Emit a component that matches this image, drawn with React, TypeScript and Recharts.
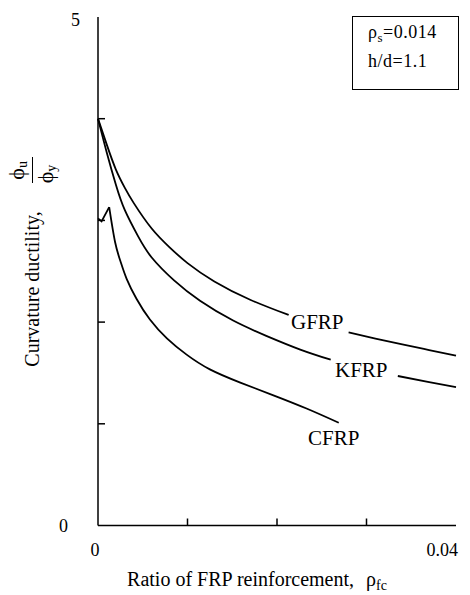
import React from "react";
import { LineChart, Line, XAxis, YAxis } from "recharts";

// null = gap left for the curve label
const gfrpX = [0, 0.001, 0.002, 0.003, 0.004, 0.006, 0.008, 0.01, 0.013, 0.017, 0.0213, 0.0245, 0.028, 0.031, 0.034, 0.037, 0.04];
const gfrpY = [4.0, 3.74, 3.5, 3.32, 3.17, 2.92, 2.735, 2.58, 2.4, 2.22, 2.07, null, 1.9, 1.838, 1.78, 1.725, 1.67];

const kfrpX = [0, 0.001, 0.002, 0.003, 0.0045, 0.006, 0.0085, 0.0114, 0.0151, 0.0188, 0.0226, 0.026, 0.0298, 0.0335, 0.037, 0.04];
const kfrpY = [4.0, 3.66, 3.35, 3.1, 2.84, 2.635, 2.41, 2.21, 2.015, 1.865, 1.73, 1.63, null, 1.47, 1.41, 1.36];

// CFRP has a small hook at the start, peak at index 2
const cfrpX = [0, 0.0004, 0.00125, 0.0019, 0.0025, 0.0032, 0.0043, 0.0058, 0.0077, 0.0099, 0.0125, 0.0159, 0.0196, 0.0233, 0.0269];
const cfrpY = [3.02, 2.99, 3.13, 2.79, 2.6, 2.425, 2.23, 2.025, 1.84, 1.68, 1.535, 1.405, 1.28, 1.15, 1.01];
const cfrpPeak = 2;

const xTicks = [0, 0.01, 0.02, 0.03, 0.04];
const yTicks = [0, 1, 2, 3, 4, 5];

const toPoints = (xs: number[], ys: (number | null)[]) => xs.map((x, i) => ({ x, y: ys[i] }));

const serif = "'Liberation Serif', 'DejaVu Serif', serif";

const XTick = (props: any) => {
  const { x, y, payload } = props;
  const v = payload.value;
  const edge = v === 0 || v === 0.04;
  return (
    <g>
      {!edge && <line x1={x} y1={y} x2={x} y2={y - 7} stroke="#000" strokeWidth={1.5} />}
      {v === 0 && (
        <text x={x - 3} y={y + 30.5} textAnchor="middle" fontFamily={serif} fontSize={18} fill="#000">
          0
        </text>
      )}
      {v === 0.04 && (
        <text x={x + 2} y={y + 30.5} textAnchor="end" fontFamily={serif} fontSize={18} fill="#000">
          0.04
        </text>
      )}
    </g>
  );
};

const YTick = (props: any) => {
  const { x, y, payload } = props;
  const v = payload.value;
  const edge = v === 0 || v === 5;
  return (
    <g>
      {!edge && <line x1={x} y1={y} x2={x + 7} y2={y} stroke="#000" strokeWidth={1.5} />}
      {v === 0 && (
        <text x={x - 30} y={y + 6.5} textAnchor="end" fontFamily={serif} fontSize={18} fill="#000">
          0
        </text>
      )}
      {v === 5 && (
        <text x={x - 18} y={y + 9} textAnchor="end" fontFamily={serif} fontSize={18} fill="#000">
          5
        </text>
      )}
    </g>
  );
};

const axisLine = { stroke: "#000", strokeWidth: 1.5 };

const curveLabel = (text: string, left: number, top: number) => (
  <div style={{ position: "absolute", left, top, fontSize: 21, lineHeight: 1, fontFamily: serif }}>{text}</div>
);

export default function App() {
  const cfrp = toPoints(cfrpX, cfrpY);
  return (
    <div
      style={{
        position: "absolute",
        left: 0,
        top: 0,
        width: 470,
        height: 595,
        background: "#fff",
        fontFamily: serif,
        color: "#000",
        overflow: "hidden",
      }}
    >
      <LineChart width={470} height={595} margin={{ top: 17, right: 14, left: 0, bottom: 29.5 }}>
        <XAxis
          type="number"
          dataKey="x"
          domain={[0, 0.04]}
          ticks={xTicks}
          tick={<XTick />}
          tickLine={false}
          tickSize={0}
          tickMargin={0}
          height={40}
          axisLine={axisLine}
          interval={0}
        />
        <XAxis
          xAxisId="top"
          orientation="top"
          type="number"
          domain={[0, 0.04]}
          tick={false}
          tickLine={false}
          height={0}
          axisLine={axisLine}
        />
        <YAxis
          type="number"
          domain={[0, 5]}
          ticks={yTicks}
          tick={<YTick />}
          tickLine={false}
          tickSize={0}
          tickMargin={0}
          width={98}
          axisLine={axisLine}
          interval={0}
        />
        <YAxis
          yAxisId="right"
          orientation="right"
          type="number"
          domain={[0, 5]}
          tick={false}
          tickLine={false}
          width={0}
          axisLine={axisLine}
        />
        <Line
          data={toPoints(gfrpX, gfrpY)}
          dataKey="y"
          type="natural"
          stroke="#000"
          strokeWidth={1.8}
          dot={false}
          connectNulls={false}
          isAnimationActive={false}
        />
        <Line
          data={toPoints(kfrpX, kfrpY)}
          dataKey="y"
          type="natural"
          stroke="#000"
          strokeWidth={1.8}
          dot={false}
          connectNulls={false}
          isAnimationActive={false}
        />
        {/* sharp hook, then the smooth decay */}
        <Line
          data={cfrp.slice(0, cfrpPeak + 1)}
          dataKey="y"
          type="linear"
          stroke="#000"
          strokeWidth={1.8}
          dot={false}
          isAnimationActive={false}
        />
        <Line
          data={cfrp.slice(cfrpPeak)}
          dataKey="y"
          type="natural"
          stroke="#000"
          strokeWidth={1.8}
          dot={false}
          isAnimationActive={false}
        />
      </LineChart>

      {curveLabel("GFRP", 291, 312)}
      {curveLabel("KFRP", 335, 360)}
      {curveLabel("CFRP", 308, 428)}

      {/* parameter box, top right */}
      <div
        style={{
          position: "absolute",
          left: 352,
          top: 16,
          width: 107,
          height: 74,
          border: "1.5px solid #000",
          boxSizing: "border-box",
          background: "#fff",
        }}
      />
      <div style={{ position: "absolute", left: 368, top: 23, fontSize: 18, lineHeight: 1, letterSpacing: 0.5 }}>
        ρ<sub style={{ fontSize: 13, verticalAlign: -4 }}>s</sub>=0.014
      </div>
      <div style={{ position: "absolute", left: 368, top: 52, fontSize: 18, lineHeight: 1, letterSpacing: 0.5 }}>
        h/d=1.1
      </div>

      {/* y axis title, rotated */}
      <div
        style={{
          position: "absolute",
          left: 32 - 130,
          top: 262 - 30,
          width: 260,
          height: 60,
          transform: "rotate(-90deg)",
          display: "flex",
          alignItems: "center",
          justifyContent: "center",
          fontSize: 20,
          whiteSpace: "nowrap",
        }}
      >
        <span>Curvature ductility,</span>
        <span
          style={{
            display: "inline-flex",
            flexDirection: "column",
            alignItems: "center",
            marginLeft: 28,
            lineHeight: 1.15,
            fontSize: 22,
          }}
        >
          <span>
            ϕ<sub style={{ fontSize: 14, verticalAlign: -3 }}>u</sub>
          </span>
          <span style={{ borderTop: "1.5px solid #000", width: 26 }}>
            ϕ<sub style={{ fontSize: 14, verticalAlign: -3 }}>y</sub>
          </span>
        </span>
      </div>

      {/* x axis title */}
      <div
        style={{
          position: "absolute",
          left: 57,
          top: 569,
          width: 400,
          textAlign: "center",
          fontSize: 20,
          lineHeight: 1,
          whiteSpace: "nowrap",
        }}
      >
        Ratio of FRP reinforcement,
        <span style={{ marginLeft: 12 }}>
          ρ<sub style={{ fontSize: 14, verticalAlign: -4 }}>fc</sub>
        </span>
      </div>
    </div>
  );
}
